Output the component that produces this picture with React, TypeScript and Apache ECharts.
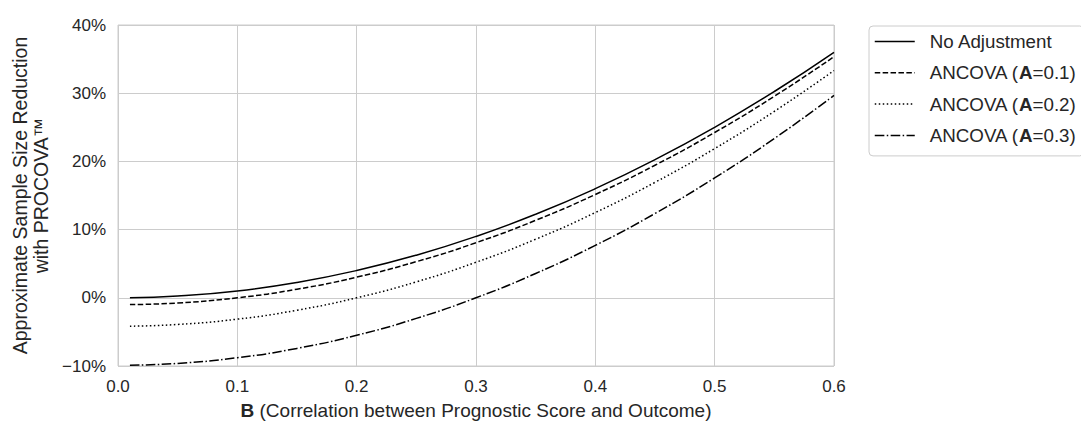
import React, { useEffect, useRef } from "react";
import * as echarts from "echarts";

const xValues = [0.01, 0.05, 0.1, 0.15, 0.2, 0.25, 0.3, 0.35, 0.4, 0.45, 0.5, 0.55, 0.6];
const noAdjustment = [0.01, 0.25, 1.0, 2.25, 4.0, 6.25, 9.0, 12.25, 16.0, 20.25, 25.0, 30.25, 36.0];
const ancovaA01 = [-1.0, -0.76, 0.0, 1.26, 3.03, 5.3, 8.08, 11.36, 15.15, 19.44, 24.24, 29.55, 35.35];
const ancovaA02 = [-4.16, -3.91, -3.13, -1.82, 0.0, 2.34, 5.21, 8.59, 12.5, 16.93, 21.88, 27.34, 33.33];
const ancovaA03 = [-9.88, -9.62, -8.79, -7.42, -5.49, -3.02, 0.0, 3.57, 7.69, 12.36, 17.58, 23.35, 29.67];

const seriesNames = ["No Adjustment", "ANCOVA (A=0.1)", "ANCOVA (A=0.2)", "ANCOVA (A=0.3)"];
const xTicks = [0, 0.1, 0.2, 0.3, 0.4, 0.5, 0.6];
const yTicks = [-10, 0, 10, 20, 30, 40];

const FONT = "'Liberation Sans', Arial, sans-serif";
const TEXT = "#262626";

export default function App() {
  const ref = useRef<HTMLDivElement>(null);
  useEffect(() => {
    if (!ref.current) return;
    const chart = echarts.init(ref.current, undefined, { renderer: "svg" });
    const dashes: any[] = ["solid", [5.5, 2.4], [1.5, 2.5], [9.6, 2.4, 1.5, 2.4]];
    const allData = [noAdjustment, ancovaA01, ancovaA02, ancovaA03];
    chart.setOption({
      animation: false,
      backgroundColor: "#ffffff",
      textStyle: { fontFamily: FONT },
      grid: {
        left: 118,
        right: 247,
        top: 25,
        bottom: 53,
        show: true,
        borderColor: "#cccccc",
        borderWidth: 1,
      },
      legend: {
        orient: "vertical",
        left: 869,
        top: 26,
        data: seriesNames,
        itemWidth: 40,
        itemHeight: 12,
        itemGap: 12.3,
        padding: [6, 8, 11, 5],
        borderColor: "#cccccc",
        borderWidth: 1,
        borderRadius: 4,
        backgroundColor: "#ffffff",
        itemStyle: { color: "rgba(0,0,0,0)", borderColor: "rgba(0,0,0,0)", borderWidth: 0 },
        lineStyle: { width: 1.5 },
        formatter: (name: string) => name.replace("A=", "{b|A}="),
        textStyle: {
          fontFamily: FONT,
          fontSize: 18.75,
          color: TEXT,
          padding: [0, 0, 0, 10],
          rich: {
            b: { fontFamily: FONT, fontSize: 18.75, fontWeight: "bold", color: TEXT },
          },
        },
      },
      xAxis: {
        type: "value",
        min: 0,
        max: 0.6,
        interval: 0.1,
        name: "{b|B} (Correlation between Prognostic Score and Outcome)",
        nameLocation: "middle",
        nameGap: 35,
        nameTextStyle: {
          fontFamily: FONT,
          fontSize: 19,
          color: TEXT,
          rich: { b: { fontFamily: FONT, fontSize: 19, fontWeight: "bold", color: TEXT } },
        },
        axisLine: { show: false },
        axisTick: { show: false },
        axisLabel: {
          fontFamily: FONT,
          fontSize: 17,
          color: TEXT,
          margin: 11.5,
          formatter: (v: number) => (xTicks.some((t) => Math.abs(t - v) < 1e-9) ? v.toFixed(1) : ""),
        },
        splitLine: { show: true, lineStyle: { color: "#cccccc", width: 1 } },
      },
      yAxis: {
        type: "value",
        min: -10,
        max: 40,
        interval: 10,
        name: "Approximate Sample Size Reduction\nwith PROCOVA™",
        nameLocation: "middle",
        nameGap: 62.5,
        nameTextStyle: { fontFamily: FONT, fontSize: 19.5, color: TEXT, lineHeight: 21 },
        axisLine: { show: false },
        axisTick: { show: false },
        axisLabel: {
          fontFamily: FONT,
          fontSize: 17,
          color: TEXT,
          margin: 12,
          formatter: (v: number) =>
            yTicks.includes(v) ? (v < 0 ? "\u2212" + Math.abs(v) : String(v)) + "%" : "",
        },
        splitLine: { show: true, lineStyle: { color: "#cccccc", width: 1 } },
      },
      series: seriesNames.map((name, i) => ({
        name,
        type: "line",
        data: xValues.map((x, j) => [x, allData[i][j]]),
        smooth: true,
        showSymbol: false,
        symbol: "none",
        lineStyle: { color: "#000000", width: 1.5, type: dashes[i] },
        itemStyle: { color: "#000000" },
      })),
    });
    return () => chart.dispose();
  }, []);
  return (
    <div
      ref={ref}
      style={{ position: "fixed", left: 0, top: 0, width: 1081, height: 425 }}
    />
  );
}
